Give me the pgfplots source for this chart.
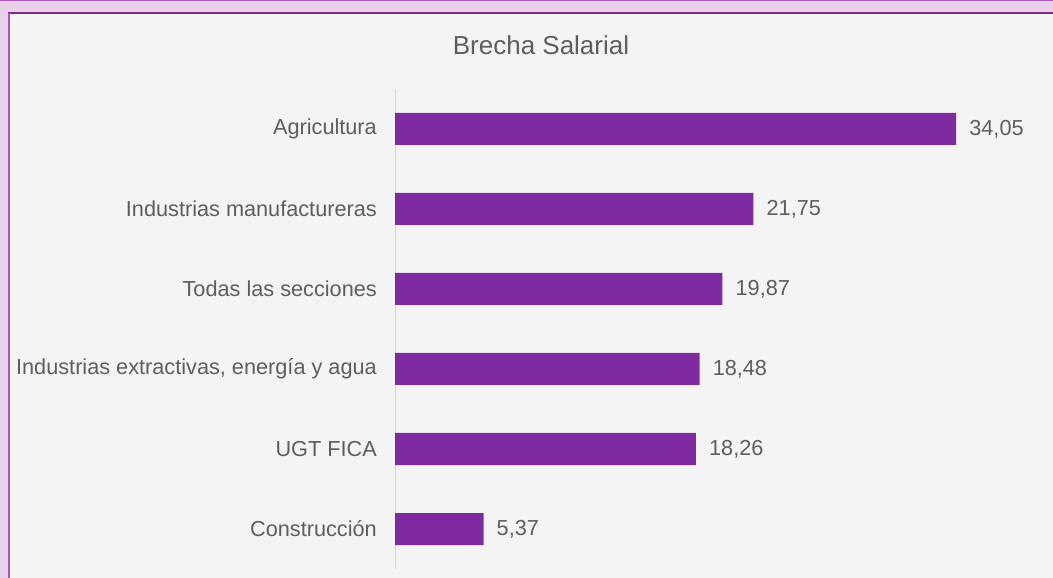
\documentclass[border=0pt]{standalone}
\usepackage{fontspec}
\setmainfont{Liberation Sans}
\usepackage{pgfplots}
\pgfplotsset{compat=1.18}
\definecolor{lilac}{HTML}{E9D1EB}
\definecolor{panel}{HTML}{F4F4F4}
\definecolor{edge}{HTML}{A855BC}
\definecolor{edgetop}{HTML}{7B2A8C}
\definecolor{barc}{HTML}{7F2AA0}
\definecolor{txt}{HTML}{5E5E5E}
\definecolor{axl}{HTML}{D9D9D9}
\begin{document}
\begin{tikzpicture}[x=1bp,y=1bp]
\useasboundingbox (0,0) rectangle (1053,578);
\fill[lilac] (0,0) rectangle (1053,578);
\fill[edge] (0,576.5) rectangle (1053,578);
\fill[panel] (8,-2) rectangle (1055,565);
\draw[edgetop, line width=1.2bp] (8,565) -- (1055,565);
\draw[edge, line width=1.5bp] (8.75,-2) -- (8.75,565);
\node[font=\fontsize{26bp}{31bp}\selectfont, text=txt] at (541,533) {Brecha Salarial};
\begin{axis}[at={(395bp,9bp)}, anchor=south west,
  scale only axis, width=659.2bp, height=480bp,
  xmin=0, xmax=40, ymin=-0.5, ymax=5.5, y dir=reverse,
  xbar, bar width=32bp, clip=false,
  axis x line=none, axis y line*=left,
  y axis line style={draw=axl, line width=1bp},
  ytick={0,...,5}, major tick length=0pt,
  yticklabels={Agricultura, Industrias manufactureras, Todas las secciones,
    {Industrias extractivas, energía y agua}, UGT FICA, Construcción},
  yticklabel style={font=\fontsize{21.7bp}{26bp}\selectfont, text=txt, inner sep=0pt, xshift=-18bp},
  point meta=explicit symbolic, nodes near coords,
  nodes near coords style={anchor=west, inner sep=0pt, xshift=13bp,
    font=\fontsize{21.7bp}{26bp}\selectfont, text=txt},
]
\addplot[fill=barc, draw=none] coordinates {
  (34.05,0) [34,05]
  (21.75,1) [21,75]
  (19.87,2) [19,87]
  (18.48,3) [18,48]
  (18.26,4) [18,26]
  (5.37,5) [5,37]
};
\end{axis}
\end{tikzpicture}
\end{document}
